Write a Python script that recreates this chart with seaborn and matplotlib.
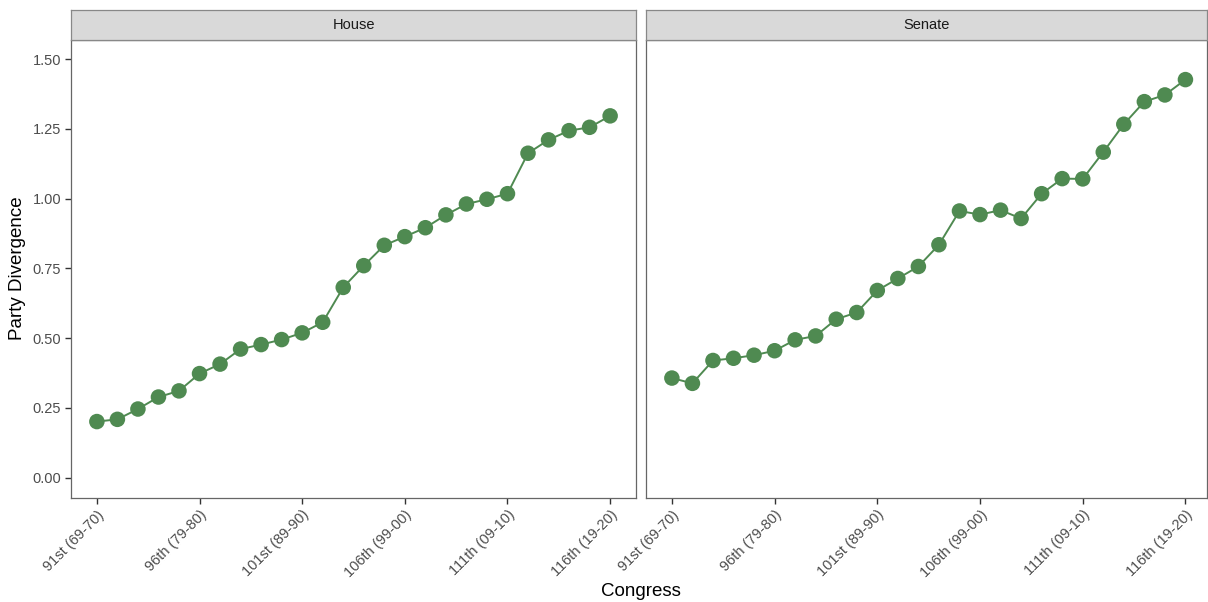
import matplotlib
matplotlib.use("Agg")
import matplotlib.pyplot as plt
import numpy as np
import pandas as pd
import seaborn as sns

# Congress numbers 91st..116th
congress = list(range(91, 117))

# Party divergence by chamber
house = [0.201, 0.209, 0.246, 0.289, 0.311, 0.373, 0.407, 0.461, 0.477, 0.495,
         0.519, 0.557, 0.682, 0.760, 0.833, 0.864, 0.896, 0.942, 0.981, 0.998,
         1.018, 1.163, 1.211, 1.244, 1.256, 1.297]
senate = [0.357, 0.338, 0.420, 0.428, 0.439, 0.455, 0.494, 0.508, 0.568, 0.592,
          0.671, 0.714, 0.757, 0.835, 0.956, 0.943, 0.959, 0.929, 1.018, 1.072,
          1.071, 1.167, 1.267, 1.348, 1.372, 1.427]

chambers = ["House", "Senate"]
tick_congress = [91, 96, 101, 106, 111, 116]
tick_labels = ["91st (69-70)", "96th (79-80)", "101st (89-90)",
               "106th (99-00)", "111th (09-10)", "116th (19-20)"]
y_ticks = [0.00, 0.25, 0.50, 0.75, 1.00, 1.25, 1.50]

df = pd.concat([
    pd.DataFrame({"congress": congress, "divergence": house, "chamber": "House"}),
    pd.DataFrame({"congress": congress, "divergence": senate, "chamber": "Senate"}),
])

sns.set_theme(style="white")
plt.rcParams["font.family"] = ["Liberation Sans", "DejaVu Sans"]

W, H = 1208, 602
fig = plt.figure(figsize=(W / 100, H / 100), dpi=100)

point_color = "#4f8a51"
text_gray = "#4d4d4d"

# panel geometry in pixels: (left, right, top, bottom)
panels = [(71, 636, 40, 498), (646, 1207, 40, 498)]
xlims = [(89.74, 117.26), (89.74, 117.05)]
strip_top = 10


def frac(l, r, t, b):
    return [l / W, 1 - b / H, (r - l) / W, (b - t) / H]


for i, (chamber, (l, r, t, b)) in enumerate(zip(chambers, panels)):
    ax = fig.add_axes(frac(l, r, t, b))
    sub = df[df["chamber"] == chamber]
    sns.lineplot(data=sub, x="congress", y="divergence", ax=ax,
                 color=point_color, linewidth=1.4, zorder=2)
    sns.scatterplot(data=sub, x="congress", y="divergence", ax=ax,
                    color=point_color, s=125, edgecolor="none", zorder=3)
    ax.set_xlim(*xlims[i])
    ax.set_ylim(-0.073, 1.569)
    ax.set_xticks(tick_congress)
    ax.set_xticklabels(tick_labels, rotation=45, ha="right",
                       rotation_mode="anchor", fontsize=10.5, color=text_gray)
    ax.set_yticks(y_ticks)
    ax.tick_params(axis="both", which="major", length=4, width=1,
                   color="#333333", direction="out", pad=3,
                   bottom=True, left=True)
    if i == 0:
        ax.set_yticklabels([f"{v:.2f}" for v in y_ticks], fontsize=10.5,
                           color=text_gray)
    else:
        ax.set_yticklabels([])
        ax.tick_params(axis="y", left=False, length=0)
    ax.set_xlabel("")
    ax.set_ylabel("")
    ax.grid(False)
    for side, sp in ax.spines.items():
        sp.set_visible(True)
        sp.set_color("#666666")
        sp.set_linewidth(0.9)
    ax.spines["top"].set_color("#444444")
    ax.spines["top"].set_linewidth(1.6)
    ax.spines["top"].set_capstyle("butt")

    # facet strip
    sax = fig.add_axes(frac(l, r, strip_top, t))
    sax.set_facecolor("#d9d9d9")
    sax.set_xticks([])
    sax.set_yticks([])
    for sp in sax.spines.values():
        sp.set_color("#888888")
        sp.set_linewidth(0.9)
    sax.text(0.5, 0.5, chamber, ha="center", va="center",
             fontsize=10.5, color="#1a1a1a", transform=sax.transAxes)

fig.text(641 / W, 1 - 592 / H, "Congress", ha="center", va="center",
         fontsize=13.5, color="black")
fig.text(18 / W, 1 - 268 / H, "Party Divergence", ha="center", va="center",
         rotation=90, fontsize=13.5, color="black")

fig.savefig("out.png", dpi=100, facecolor="white")
